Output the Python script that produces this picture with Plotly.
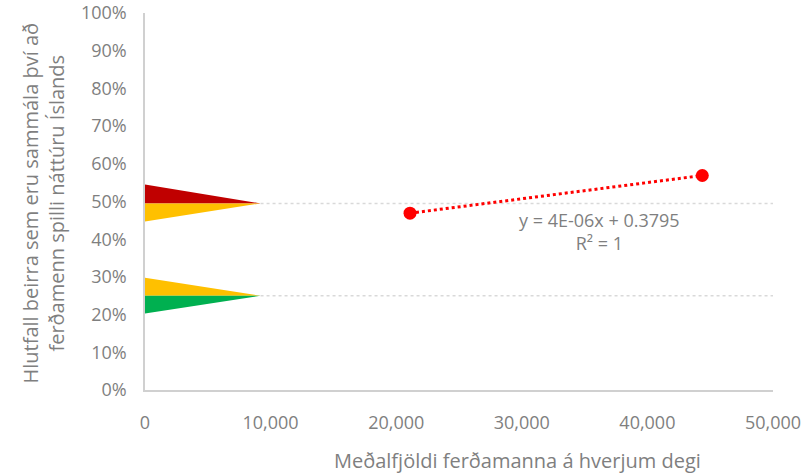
import numpy as np
import plotly.graph_objects as go

# Data
visitors = [21100, 44370]          # Meðalfjöldi ferðamanna á hverjum degi
share_agree = [0.469, 0.569]       # Hlutfall sammála

# Indicator triangles (x, y) - upper band
tri_upper_red_x = [0, 0, 9200]
tri_upper_red_y = [0.545, 0.495, 0.495]
tri_upper_yel_x = [0, 0, 9200]
tri_upper_yel_y = [0.495, 0.447, 0.495]
# lower band
tri_lower_yel_x = [0, 0, 9200]
tri_lower_yel_y = [0.298, 0.25, 0.25]
tri_lower_grn_x = [0, 0, 9200]
tri_lower_grn_y = [0.25, 0.203, 0.25]

# Reference lines
ref_x = [9200, 50000]
ref_upper_y = [0.495, 0.495]
ref_lower_y = [0.25, 0.25]

x_ticks = [0, 10000, 20000, 30000, 40000, 50000]
x_ticklabels = ["0", "10,000", "20,000", "30,000", "40,000", "50,000"]
y_ticks = [i / 10 for i in range(11)]
y_ticklabels = [f"{i*10}%" for i in range(11)]

trend_text = "y = 4E-06x + 0.3795<br>R² = 1"

FONT = "Open Sans"
GRAY = "#7f7f7f"

fig = go.Figure()

def tri(x, y, color):
    fig.add_trace(go.Scatter(x=x + [x[0]], y=y + [y[0]], mode="lines", fill="toself",
                             fillcolor=color, line=dict(width=0, color=color),
                             hoverinfo="skip", showlegend=False))

tri(tri_upper_red_x, tri_upper_red_y, "#c00000")
tri(tri_upper_yel_x, tri_upper_yel_y, "#ffc000")
tri(tri_lower_yel_x, tri_lower_yel_y, "#ffc000")
tri(tri_lower_grn_x, tri_lower_grn_y, "#00b050")

for ry in (ref_upper_y, ref_lower_y):
    fig.add_trace(go.Scatter(x=ref_x, y=ry, mode="lines",
                             line=dict(color="#d9d9d9", width=1.5, dash="dot"),
                             hoverinfo="skip", showlegend=False))

# Trendline computed from the data
coef = np.polyfit(visitors, share_agree, 1)
trend_y = list(np.polyval(coef, visitors))
fig.add_trace(go.Scatter(x=visitors, y=trend_y, mode="lines",
                         line=dict(color="#ff0000", width=3, dash="dot"),
                         showlegend=False))

fig.add_trace(go.Scatter(x=visitors, y=share_agree, mode="markers",
                         marker=dict(color="#ff0000", size=13),
                         showlegend=False))

fig.add_annotation(x=36190, y=0.42, text=trend_text, showarrow=False,
                   font=dict(family=FONT, size=18, color=GRAY), align="center")

# Axis titles as paper annotations
fig.add_annotation(xref="paper", yref="paper", x=0.5, y=-0.186, yanchor="middle",
                   text="Meðalfjöldi ferðamanna á hverjum degi", showarrow=False,
                   font=dict(family=FONT, size=20, color=GRAY), xshift=58)
fig.add_annotation(xref="paper", yref="paper", x=0, y=0.5, xanchor="center",
                   text="Hlutfall beirra sem eru sammála því að<br>ferðamenn spilli náttúru Íslands",
                   showarrow=False, textangle=-90, xshift=-102, yshift=-2,
                   font=dict(family=FONT, size=20, color=GRAY), align="center")

fig.update_layout(
    width=807, height=475,
    margin=dict(l=145, r=34, t=13, b=85),
    paper_bgcolor="white", plot_bgcolor="white",
    font=dict(family=FONT, color=GRAY),
    xaxis=dict(range=[0, 50000], tickvals=x_ticks, ticktext=x_ticklabels,
               showgrid=False, zeroline=False, showline=True, linecolor="#d0d0d0",
               linewidth=1.5, ticks="", tickfont=dict(size=18, color=GRAY),
               ticklabelstandoff=16, automargin=False, ticklabeloverflow="allow"),
    yaxis=dict(range=[0, 1], tickvals=y_ticks, ticktext=y_ticklabels,
               showgrid=False, zeroline=False, showline=True, linecolor="#d0d0d0",
               linewidth=1.5, ticks="", tickfont=dict(size=18, color=GRAY),
               ticklabelstandoff=13, automargin=False, ticklabeloverflow="allow"),
)

# remove the default page margin so the figure fills the window exactly
fig.write_html("out.html",
               config={"displayModeBar": False},
               post_script="document.body.style.margin='0';document.body.style.overflow='hidden';")
